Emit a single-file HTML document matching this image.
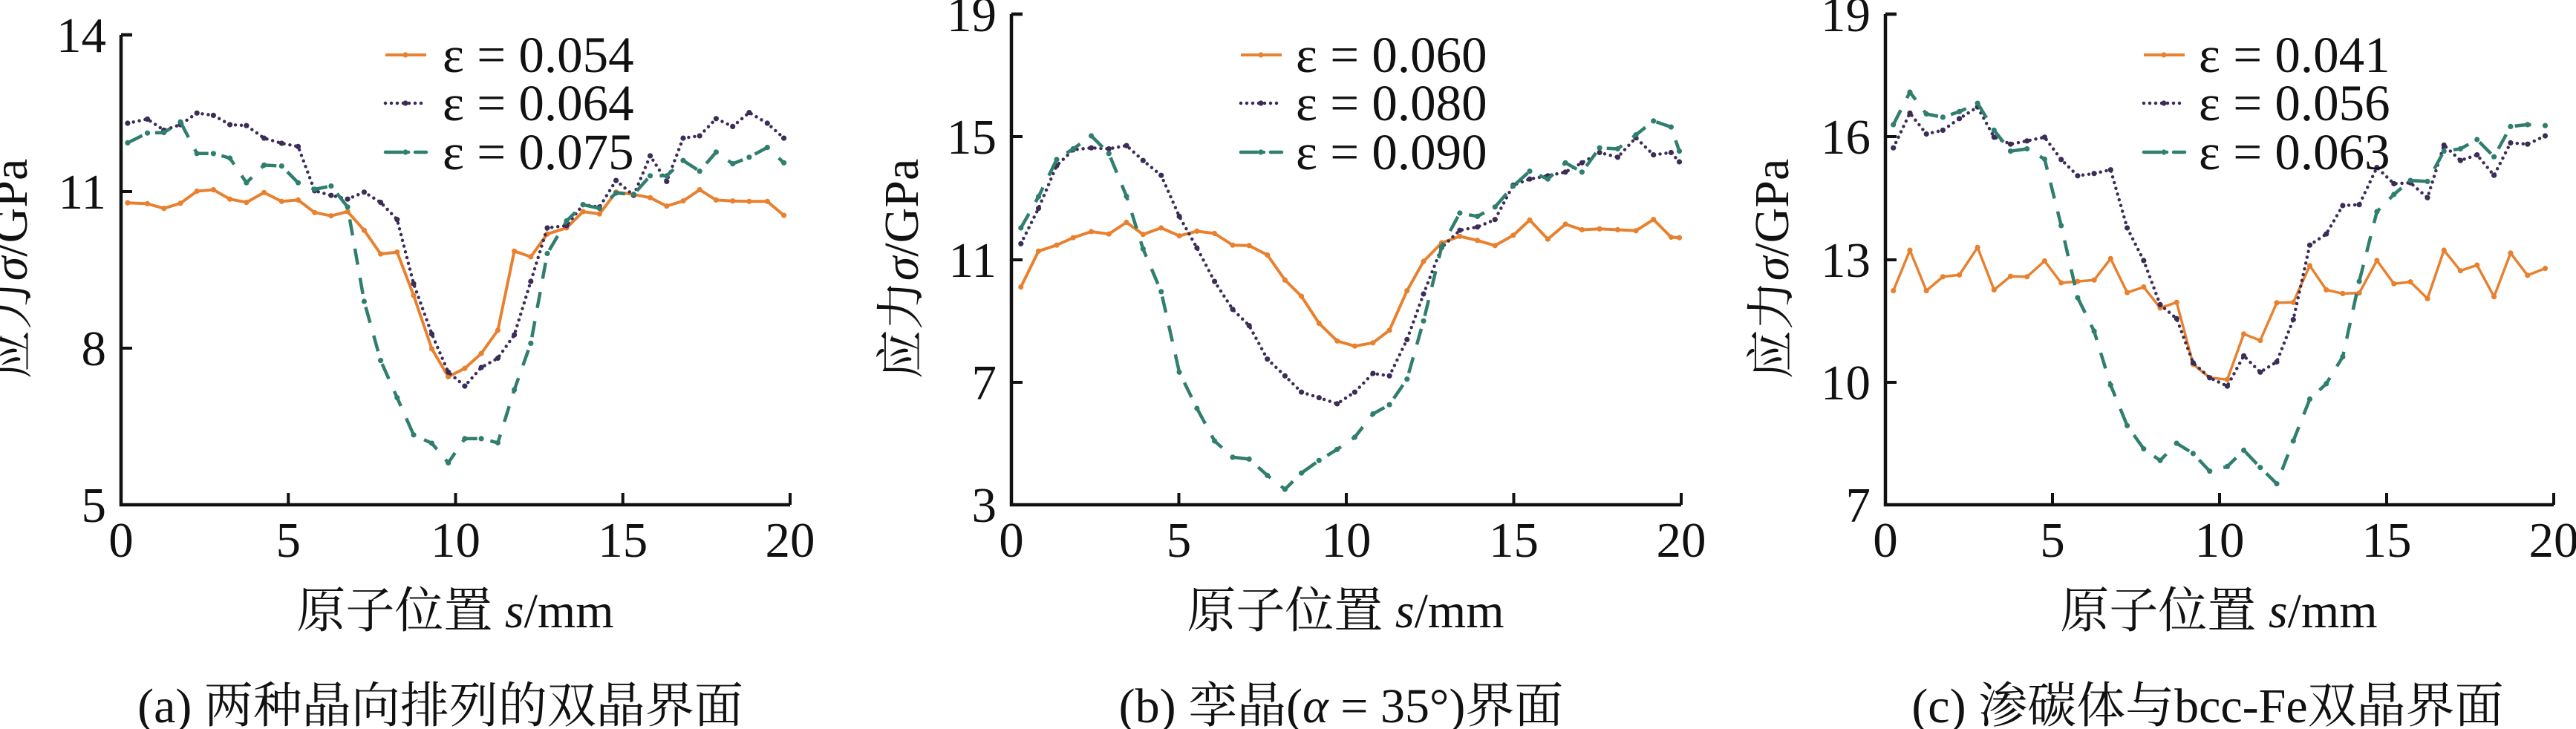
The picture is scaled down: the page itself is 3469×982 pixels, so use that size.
<!DOCTYPE html>
<html><head><meta charset="utf-8">
<style>
html,body{margin:0;padding:0;background:#fff;}
svg{display:block;}
text{font-family:"Liberation Serif","Noto Serif CJK SC",serif;fill:#111;}
</style></head>
<body>
<svg id="s" xmlns="http://www.w3.org/2000/svg" width="3469" height="982" viewBox="0 0 3469 982"></svg>
<script>
const S=document.getElementById('s');
const KX=1.35, KY=1.596;
let html='';
const OR='#E8812F', PU='#3B2C58', TE='#2F7E6E';
function pts(off,arr){return arr.map(p=>[off+p[0]/KX,p[1]/KY]);}
function series(P,color,dash,w){
  let d='M'+P.map(p=>p[0].toFixed(1)+','+p[1].toFixed(1)).join(' L');
  html+=`<path d="${d}" fill="none" stroke="${color}" stroke-width="${w}" stroke-linejoin="round" ${dash?'stroke-dasharray="'+dash+'"':''} stroke-linecap="${dash&&dash.startsWith('0')?'round':'butt'}"/>`;
  P.forEach(p=>{html+=`<circle cx="${p[0].toFixed(1)}" cy="${p[1].toFixed(1)}" r="3.6" fill="${color}"/>`;});
}
function panel(off,ax,x20,yl,ylab,xlabC,capC,cap,legX,legT,legLab){
  html+=`<path d="M${ax},${yl[0][1]} H${ax+15} M${ax},${yl[0][1]} V680 H${x20}" fill="none" stroke="#111" stroke-width="4.5"/>`;
  yl.forEach(t=>{html+=`<line x1="${ax}" y1="${t[1]}" x2="${ax+15}" y2="${t[1]}" stroke="#111" stroke-width="4"/>`;
    html+=`<text x="${ax-20}" y="${t[1]+23}" font-size="67" text-anchor="end">${t[0]}</text>`;});
  for(let i=0;i<=4;i++){let x=ax+(x20-ax)*i/4;
    if(i>0) html+=`<line x1="${x}" y1="680" x2="${x}" y2="664" stroke="#111" stroke-width="4"/>`;
    html+=`<text x="${x}" y="750" font-size="67" text-anchor="middle">${i*5}</text>`;}
  html+=`<text transform="translate(${ylab+4},362) rotate(-90)" font-size="66" text-anchor="middle">应力<tspan font-style="italic">σ</tspan>/GPa</text>`;
  html+=`<text x="${xlabC}" y="845" font-size="66" text-anchor="middle">原子位置 <tspan font-style="italic">s</tspan>/mm</text>`;
  html+=`<text x="${capC}" y="973" font-size="66" text-anchor="middle">${cap}</text>`;
  const ys=[74,139,205], cols=[OR,PU,TE], ds=['','0 8','22 9 0 9'];
  for(let i=0;i<3;i++){
    html+=`<path d="M${legX},${ys[i]} H${legX+55}" stroke="${cols[i]}" stroke-width="${i==0?4:4.5}" ${ds[i]?'stroke-dasharray="'+ds[i]+'" stroke-linecap="round"':''}/>`;
    html+=`<circle cx="${legX+27}" cy="${ys[i]}" r="3.6" fill="${cols[i]}"/>`;
    html+=`<text x="${legT}" y="${ys[i]+23}" font-size="69">ε = ${legLab[i]}</text>`;
  }
}
const zip=(xs,ys)=>xs.map((x,i)=>[x,ys[i]]);
const xa=[232,268,298,328,358,388,418,448,480,512,542,572,602,632,662,692,722,752,785,815,845,875,905,935,965,995,1030,1060,1090,1120,1152,1182,1212,1242,1272,1302,1332,1362,1395,1425];
const aO=[436,438,448,437,411,408,428,435,414,433,430,457,464,455,495,546,542,635,750,810,792,760,710,540,552,503,490,455,460,413,418,425,443,432,408,430,432,433,433,463];
const aP=[265,256,280,268,243,248,268,270,297,308,315,410,420,428,413,435,472,610,718,800,830,790,770,720,605,490,485,440,445,388,420,335,390,297,292,255,272,242,265,297];
const aT=[307,286,285,262,330,330,340,393,355,357,393,407,400,445,648,775,855,935,953,995,943,943,952,838,738,545,475,440,448,415,418,378,378,345,368,327,352,338,317,350];
series(pts(0,zip(xa,aO)),OR,'',4);
series(pts(0,zip(xa,aP)),PU,'0 8',4.5);
series(pts(0,zip(xa,aT)),TE,'22 9 0 9',4.5);
panel(0,163,1064,[[14,47],[11,258],[8,469],[5,680]],32,613,593,'(a) 两种晶向排列的双晶界面',519,596,['0.054','0.064','0.075']);
const xb=[290,322,355,385,418,450,482,512,545,578,610,642,675,705,738,770,800,832,865,897,930,960,992,1022,1055,1088,1120,1152,1185,1215,1248,1280,1310,1342,1375,1408,1440,1472,1487];
const bO=[617,540,527,511,498,503,478,504,490,507,497,502,527,528,548,602,637,695,733,744,737,710,625,562,522,508,517,528,506,473,514,482,494,492,494,496,472,510,511];
const bP=[524,448,356,322,318,320,313,345,377,465,533,605,665,700,772,808,843,855,868,843,803,808,730,632,532,495,488,472,398,385,378,370,350,328,338,296,333,328,348];
const bT=[490,423,343,320,292,330,422,535,627,800,878,948,983,987,1022,1052,1017,990,966,940,890,870,815,690,530,458,465,445,400,368,385,350,370,318,320,290,260,273,325];
series(pts(1160,zip(xb,bO)),OR,'',4);
series(pts(1160,zip(xb,bP)),PU,'0 8',4.5);
series(pts(1160,zip(xb,bT)),TE,'22 9 0 9',4.5);
panel(1160,1362,2264,[[19,19],[15,184],[11,350],[7,515],[3,680]],1232,1812,1806,'(b) 孪晶(<tspan font-style="italic">α</tspan> = 35°)界面',1671,1745,['0.060','0.080','0.090']);
const xc=[325,355,385,415,445,478,508,538,568,600,630,660,690,720,750,780,810,840,870,900,932,962,992,1022,1052,1082,1112,1142,1172,1204,1235,1265,1296,1326,1356,1386,1417,1447,1478,1510];
const cO=[625,538,625,595,591,532,623,594,595,561,608,605,602,556,629,617,662,650,783,812,816,718,732,651,650,571,623,631,630,560,610,606,642,538,582,570,638,544,592,577];
const cP=[318,243,288,280,255,230,295,310,303,295,343,378,373,365,490,560,655,685,780,812,830,765,800,778,687,527,503,442,440,360,395,393,425,312,345,333,377,307,310,292];
const cT=[268,198,245,252,240,222,280,325,320,342,485,640,712,828,915,965,990,953,975,1013,1003,968,1005,1040,948,858,825,767,605,455,418,388,390,325,320,300,337,272,268,270];
series(pts(2309,zip(xc,cO)),OR,'',3.5);
series(pts(2309,zip(xc,cP)),PU,'0 8',4.5);
series(pts(2309,zip(xc,cT)),TE,'22 9 0 9',4.5);
panel(2309,2539,3439,[[19,19],[16,184],[13,350],[10,515],[7,680]],2404,2988,2973,'(c) 渗碳体与bcc-Fe双晶界面',2887,2961,['0.041','0.056','0.063']);
S.innerHTML=html;
</script>
</body></html>
